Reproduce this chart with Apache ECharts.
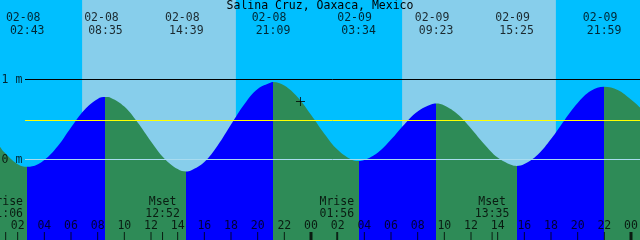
<!DOCTYPE html>
<html><head><meta charset="utf-8">
<script src="https://cdn.jsdelivr.net/npm/echarts@6/dist/echarts.min.js"></script>
<style>html,body{margin:0;padding:0;background:#00bfff}#c{width:640px;height:240px}</style>
</head><body><div id="c"></div>
<script>
// ---------- data ----------
const chartTitle = 'Salina Cruz, Oaxaca, Mexico';
// tide extremes
const tideDates = ['02-08','02-08','02-08','02-08','02-09','02-09','02-09','02-09'];
const tideClock = ['02:43','08:35','14:39','21:09','03:34','09:23','15:25','21:59'];
const tideHeights = [-0.09, 0.78, -0.15, 0.97, -0.02, 0.70, -0.08, 0.91];
// curve samples (hours after 02-08 00:00, metres)
const sampleHours = [0.675, 1, 2, 3, 4, 5, 6, 7, 8, 9, 10, 11, 12, 13, 14, 15, 16, 17, 18, 19, 20, 21, 22, 23, 24,
  25, 26, 27, 28, 29, 30, 31, 32, 33, 34, 35, 36, 37, 38, 39, 40, 41, 42, 43, 44, 45, 47, 48, 48.675];
const sampleHeights = [0.16, 0.09, -0.058, -0.087, -0.005, 0.165, 0.40, 0.62, 0.757, 0.769, 0.661, 0.462, 0.226, 0.013, -0.12,
  -0.138, -0.031, 0.176, 0.437, 0.692, 0.882, 0.964, 0.924, 0.778, 0.56,
  0.323, 0.121, 0.002, -0.007, 0.084, 0.249, 0.439, 0.600, 0.687, 0.675, 0.566, 0.389, 0.192, 0.025, -0.066,
  -0.056, 0.060, 0.256, 0.489, 0.706, 0.858, 0.868, 0.75, 0.65];
// sun
const sunDates = ['02-08','02-08','02-09','02-09'];
const sunClock = ['06:50','18:22','06:50','18:22'];
// moon
const moonNames = ['Mrise','Mset','Mrise','Mset'];
const moonDates = ['02-08','02-08','02-09','02-09'];
const moonClock = ['01:06','12:52','01:56','13:35'];
// hour ticks (hours after 02-08 00:00)
const hourTicks = [2,4,6,8,10,12,14,16,18,20,22,24,26,28,30,32,34,36,38,40,42,44,46,48];
// reference levels
const datumLevels = [1, 0];
const datumLabels = ['1 m', '0 m'];
const meanSeaLevel = 0.4875;
// "now" mark
const nowMark = [23.21, 0.725];
// visible window
const xMin = 0.675, xMax = 48.675;
const yMin = -1.00625, yMax = 1.99375;

// ---------- helpers ----------
const FONT = 'DejaVu Sans Mono';
const FS = 11.5;
const C_DAY = '#87ceeb', C_NIGHT = '#00bfff', C_RISE = '#0000ff', C_FALL = '#2e8b57';
function toHours(d, c) {
  const day = parseInt(d.slice(3), 10) - 8;
  const p = c.split(':');
  return day * 24 + parseInt(p[0], 10) + parseInt(p[1], 10) / 60;
}
const tideT = tideDates.map((d, i) => toHours(d, tideClock[i]));
const sunT = sunDates.map((d, i) => toHours(d, sunClock[i]));
const moonT = moonDates.map((d, i) => toHours(d, moonClock[i]));

// merge samples and extremes
const curve = sampleHours.map((h, i) => [h, sampleHeights[i]])
  .concat(tideT.map((t, i) => [t, tideHeights[i]]))
  .sort((a, b) => a[0] - b[0]);

// rising / falling pieces
const n = tideT.length;
const pieces = [];
pieces.push({ lt: tideT[0], color: tideHeights[0] < tideHeights[1] ? C_FALL : C_RISE });
for (let i = 1; i < n; i++) {
  pieces.push({ gte: tideT[i - 1], lt: tideT[i], color: tideHeights[i] > tideHeights[i - 1] ? C_RISE : C_FALL });
}
pieces.push({ gte: tideT[n - 1], color: tideHeights[n - 1] > tideHeights[n - 2] ? C_FALL : C_RISE });

// day spans
const dayAreas = [];
for (let i = 0; i + 1 < sunT.length; i += 2) {
  dayAreas.push([{ xAxis: sunT[i], itemStyle: { color: C_DAY } }, { xAxis: sunT[i + 1] }]);
}

const gutterPx = 25;
const lineStart = xMin + gutterPx * (xMax - xMin) / 640;

function textSeries(points, texts, dx, dy) {
  return {
    type: 'scatter', silent: true, clip: false, z: 6, animation: false,
    symbolSize: 1, itemStyle: { color: 'rgba(0,0,0,0)' },
    data: points.map((p, i) => ({ value: p, label: { formatter: texts[i] } })),
    label: { show: true, position: 'inside', offset: [dx, dy], fontFamily: FONT, fontSize: FS, color: '#000' }
  };
}
const pad = v => (v < 10 ? '0' : '') + v;

const option = {
  animation: false,
  backgroundColor: C_NIGHT,
  title: {
    text: chartTitle, left: 'center', top: 0, padding: 0,
    textStyle: { fontFamily: FONT, fontSize: FS, fontWeight: 'normal', color: '#000', lineHeight: 13 }
  },
  grid: { left: 0, right: 0, top: 0, bottom: 0, containLabel: false, outerBoundsMode: 'none' },
  xAxis: { type: 'value', min: xMin, max: xMax, show: false },
  yAxis: { type: 'value', min: yMin, max: yMax, show: false },
  visualMap: { type: 'piecewise', show: false, dimension: 0, seriesIndex: 1, pieces: pieces },
  series: [
    { // sky background
      type: 'line', z: 1, silent: true, data: [[xMin, yMin]], showSymbol: false, lineStyle: { width: 0 },
      markArea: { silent: true, data: dayAreas }
    },
    { // tide curve
      type: 'line', z: 2, silent: true, data: curve, smooth: 0.4, showSymbol: false,
      lineStyle: { width: 0 }, areaStyle: { opacity: 1, origin: 'start' }
    },
    { // reference lines
      type: 'line', z: 5, silent: true, data: [[xMin, yMin]], showSymbol: false, lineStyle: { width: 0 },
      markLine: {
        silent: true, symbol: ['none', 'none'], label: { show: false },
        data: [
          [{ coord: [lineStart, datumLevels[0]], lineStyle: { color: '#000', width: 1, type: 'solid' } }, { coord: [xMax, datumLevels[0]] }],
          [{ coord: [lineStart, datumLevels[1]], lineStyle: { color: '#a8dcf0', width: 1, type: 'solid' } }, { coord: [xMax, datumLevels[1]] }],
          [{ coord: [lineStart, meanSeaLevel], lineStyle: { color: '#ffff00', width: 1, type: 'solid' } }, { coord: [xMax, meanSeaLevel] }]
        ]
      }
    },
    { // now crosshair
      type: 'scatter', z: 7, silent: true, clip: false, symbol: 'rect',
      itemStyle: { color: '#000' },
      data: [{ value: nowMark, symbolSize: [9, 1] }, { value: nowMark, symbolSize: [1, 9] }]
    },
    { // ticks
      type: 'scatter', z: 7, silent: true, clip: false, symbol: 'rect', symbolOffset: [0, -4],
      itemStyle: { color: '#000' },
      data: hourTicks.map(h => ({ value: [h, yMin], symbolSize: [h % 24 === 0 ? 3 : 1, 8] }))
        .concat(moonT.map(t => ({ value: [t, yMin], symbolSize: [1, 8] })))
    },
    textSeries(tideT.map(t => [t - 4 * (xMax - xMin) / 640, yMax]), tideDates, 0, 18),
    textSeries(tideT.map(t => [t, yMax]), tideClock, 0, 31),
    textSeries(hourTicks.map(h => [h, yMin]), hourTicks.map(h => pad(h % 24)), 0, -13.5),
    textSeries(moonT.map(t => [t, yMin]), moonNames, 0, -37.5),
    textSeries(moonT.map(t => [t, yMin]), moonClock, 0, -25.5),
    textSeries(datumLevels.map(v => [xMin, v]), datumLabels, 12, 0.5)
  ]
};
const chart = echarts.init(document.getElementById('c'), null, { renderer: 'canvas' });
chart.setOption(option);
</script>
</body></html>
